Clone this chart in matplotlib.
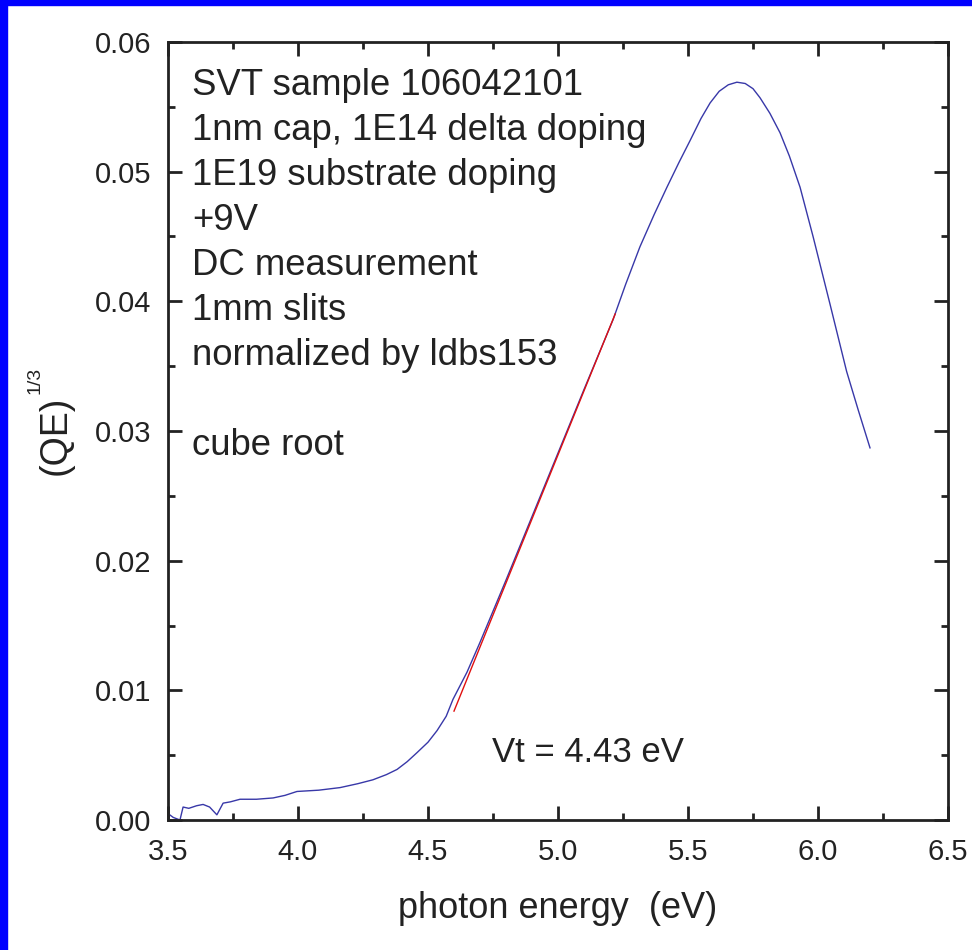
import numpy as np
import matplotlib.pyplot as plt
from matplotlib.patches import Rectangle
from matplotlib.ticker import MultipleLocator

plt.rcParams['font.family'] = ['Liberation Sans', 'DejaVu Sans']

# cube root of QE vs photon energy
energy = [3.500, 3.520, 3.546, 3.558, 3.580, 3.610, 3.635, 3.660, 3.688, 3.712,
          3.740, 3.777, 3.840, 3.904, 3.950, 3.996, 4.080, 4.162, 4.230, 4.288,
          4.340, 4.381, 4.420, 4.458, 4.500, 4.535, 4.570, 4.596, 4.650, 4.700,
          4.800, 4.900, 5.000, 5.100, 5.212, 5.260, 5.315, 5.370, 5.419, 5.465,
          5.508, 5.550, 5.585, 5.620, 5.655, 5.688, 5.720, 5.750, 5.777, 5.815,
          5.854, 5.890, 5.931, 5.981, 6.046, 6.110, 6.155, 6.200]
qe_cbrt = [0.0005, 0.0002, 0.0000, 0.0010, 0.0009, 0.0011, 0.0012, 0.0010, 0.0004, 0.0013,
           0.0014, 0.0016, 0.0016, 0.0017, 0.0019, 0.0022, 0.0023, 0.0025, 0.0028, 0.0031,
           0.0035, 0.0039, 0.0045, 0.0052, 0.0060, 0.0069, 0.0080, 0.0093, 0.0114, 0.0137,
           0.0185, 0.0234, 0.0283, 0.0332, 0.0386, 0.0413, 0.0442, 0.0467, 0.0488, 0.0507,
           0.0524, 0.0541, 0.0553, 0.0562, 0.0567, 0.0569, 0.0568, 0.0564, 0.0557, 0.0545,
           0.0530, 0.0512, 0.0488, 0.0450, 0.0398, 0.0346, 0.0316, 0.0287]

# linear fit through the onset
vt = 4.43
slope = 0.0494
fit_x = np.array([4.60, 5.22])
fit_y = slope * (fit_x - vt)

notes = ["SVT sample 106042101",
         "1nm cap, 1E14 delta doping",
         "1E19 substrate doping",
         "+9V",
         "DC measurement",
         "1mm slits",
         "normalized by ldbs153",
         "",
         "cube root"]

fig = plt.figure(figsize=(9.72, 9.5), dpi=100)
fig.patches.append(Rectangle((0, 0), 7 / 972, 1, transform=fig.transFigure,
                             color='#0000ff', zorder=0))
fig.patches.append(Rectangle((0, 1 - 5 / 950), 1, 5 / 950, transform=fig.transFigure,
                             color='#0000ff', zorder=0))

ax = fig.add_axes([168 / 972, 1 - 820 / 950, 780 / 972, 778 / 950])
ax.plot(energy, qe_cbrt, color='#3838a8', lw=1.0)
ax.plot(fit_x, fit_y, color='#e01010', lw=1.0)

ax.set_xlim(3.5, 6.5)
ax.set_ylim(0, 0.06)
ax.xaxis.set_major_locator(MultipleLocator(0.5))
ax.xaxis.set_minor_locator(MultipleLocator(0.25))
ax.yaxis.set_major_locator(MultipleLocator(0.01))
ax.yaxis.set_minor_locator(MultipleLocator(0.005))
ax.xaxis.set_major_formatter(lambda v, p: f"{v:.1f}")
ax.yaxis.set_major_formatter(lambda v, p: f"{v:.2f}")
ax.tick_params(which='both', direction='in', top=True, right=True, width=2,
               color='#222222', labelsize=21, labelcolor='#222222')
ax.tick_params(which='major', length=10)
ax.tick_params(axis='y', which='major', pad=12)
ax.tick_params(axis='x', which='major', pad=13)
ax.tick_params(which='minor', length=5)
for s in ax.spines.values():
    s.set_linewidth(2)
    s.set_color('#222222')

ax.set_xlabel("photon energy  (eV)", fontsize=26, color='#222222')
ax.xaxis.set_label_coords(0.5, -0.091)
ax.set_ylabel("(QE)", fontsize=27, color='#222222')
ax.yaxis.set_label_coords(-0.1205, 0.495)
# exponent of the y label
ax.text(-0.1705, 0.5656, "1/3", transform=ax.transAxes, rotation=90,
        fontsize=14, color='#222222', ha='center', va='center')

# sample description, one line every 45 px
for i, line in enumerate(notes):
    ax.text(0.031, (820 - 95 - 45 * i) / 778, line, transform=ax.transAxes,
            fontsize=26.3, color='#222222', va='baseline', ha='left')
ax.text(4.746, 0.0052, "Vt = 4.43 eV", fontsize=25, color='#222222',
        va='center', ha='left')

fig.savefig("out.png", dpi=100)
